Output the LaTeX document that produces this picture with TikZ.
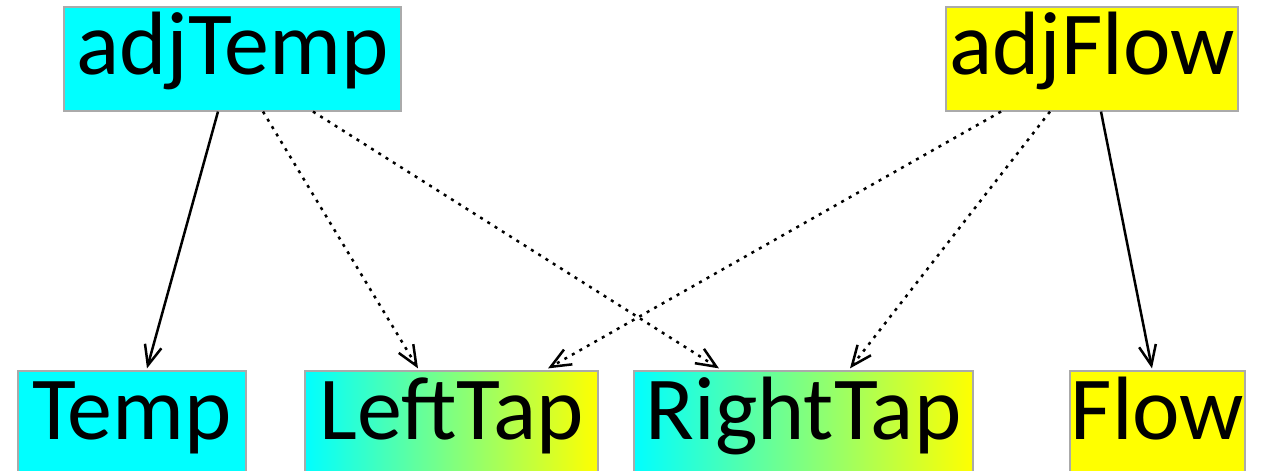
\documentclass[tikz,border=0pt]{standalone}
\usepackage{fontspec}
\setmainfont{Carlito}
\usetikzlibrary{arrows.meta}
\definecolor{pcyan}{RGB}{0,255,255}
\definecolor{pyellow}{RGB}{255,255,0}
\definecolor{boxgray}{RGB}{170,170,170}
\begin{document}
\begin{tikzpicture}[x=0.5pt,y=-0.5pt,
  box/.style={draw=boxgray, line width=0.6pt, rectangle, inner sep=0pt,
    font=\fontsize{45}{52}\selectfont, text height=25pt, text depth=9pt,
    minimum height=52pt},
  solidarr/.style={line width=1.25pt, -{Straight Barb[length=10pt,width=8.5pt,line width=1.25pt]}},
  dotarr/.style={solidarr, dash pattern=on 1.5pt off 2.8pt}]
\useasboundingbox (0,0) rectangle (1271,471);
\node[box, fill=pcyan, minimum width=337*0.5pt] (adjTemp) at (232.5,59) {adjTemp};
\node[box, fill=pyellow, minimum width=292*0.5pt] (adjFlow) at (1092,59) {adjFlow};
\node[box, fill=pcyan, minimum width=228*0.5pt] (Temp) at (132,423) {Temp};
\node[box, left color=pcyan, right color=pyellow, minimum width=293*0.5pt] (LeftTap) at (451.5,423) {LeftTap};
\node[box, left color=pcyan, right color=pyellow, minimum width=339*0.5pt] (RightTap) at (803.5,423) {RightTap};
\node[box, fill=pyellow, minimum width=175*0.5pt] (Flow) at (1157.5,423) {Flow};
\draw[solidarr] ([xshift=-7.25pt]adjTemp.south) -- ([xshift=7.5pt,yshift=1pt]Temp.north);
\draw[dotarr] ([xshift=15.25pt]adjTemp.south) -- ([xshift=-16.75pt,yshift=1pt]LeftTap.north);
\draw[dotarr] ([xshift=40.25pt]adjTemp.south) -- ([xshift=-42.25pt,yshift=1pt]RightTap.north);
\draw[dotarr] ([xshift=-45.5pt]adjFlow.south) -- ([xshift=48.25pt,yshift=1pt]LeftTap.north);
\draw[dotarr] ([xshift=-21pt]adjFlow.south) -- ([xshift=23.25pt,yshift=1pt]RightTap.north);
\draw[solidarr] ([xshift=4.5pt]adjFlow.south) -- ([xshift=-2.75pt,yshift=1pt]Flow.north);
\end{tikzpicture}
\end{document}
